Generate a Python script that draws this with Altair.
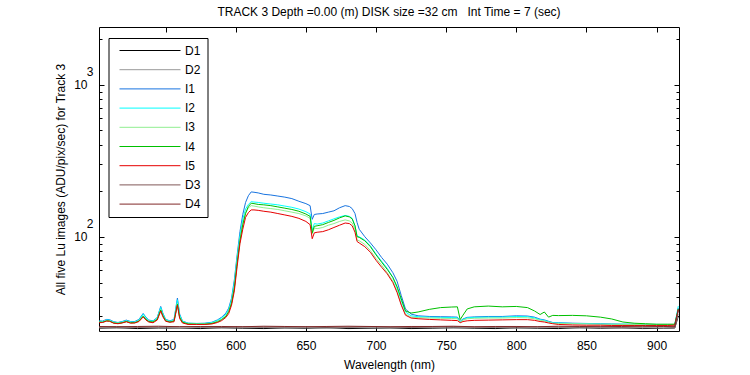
import altair as alt
import pandas as pd

# ---------------- data ----------------
W = [502, 505, 508, 510, 513, 516, 519, 522, 525, 528,
     531, 534, 536, 538, 541, 544, 546.5, 548, 550, 553,
     556, 558.4, 560, 562, 566, 572, 578, 583, 587, 590,
     593, 595, 597, 599, 601, 603, 605, 607, 609, 611,
     613, 616, 620, 625, 630, 635, 640, 645, 650, 653,
     654.5, 656, 658, 662, 666, 670, 674, 678, 681, 683,
     685, 686.5, 688, 692, 696, 700, 704, 708, 712, 715,
     718, 721, 725, 730, 738, 746, 754, 758, 760, 762,
     765, 770, 780, 790, 800, 808, 813, 817, 820, 823,
     826, 830, 840, 850, 860, 868, 876, 884, 892, 900,
     908, 913, 915.5]

I1 = [28.0, 27.9, 28.6, 28.5, 27.6, 27.3, 27.7, 28.3, 27.7, 27.7,
      28.6, 31.3, 29.5, 28.3, 28.0, 29.4, 34.8, 31.5, 28.6, 28.0,
      28.6, 39.5, 31.0, 27.9, 27.0, 26.9, 27.0, 27.4, 28.4, 29.6,
      31.5, 34.0, 39.5, 52, 76, 108, 140, 168, 186, 197,
      196, 194, 190, 188, 185, 182, 178, 171, 165, 160,
      130, 140, 141, 142, 145, 148, 155, 160, 158, 153,
      142, 124, 112, 100, 91, 82, 73, 66, 58, 51,
      41, 33.5, 31.0, 30.2, 29.9, 29.8, 29.7, 29.6, 27.8, 28.8,
      29.5, 29.7, 29.9, 29.9, 30.2, 30.1, 29.6, 28.7, 28.4, 27.8,
      27.3, 27.2, 27.0, 26.9, 26.8, 26.7, 26.6, 26.6, 26.5, 26.5,
      26.5, 26.5, 34.0]

I2 = [27.8, 27.7, 28.4, 28.3, 27.5, 27.2, 27.6, 28.1, 27.6, 27.5,
      28.4, 31.0, 29.3, 28.1, 27.9, 29.2, 34.3, 31.2, 28.5, 27.9,
      28.4, 38.5, 30.6, 27.8, 27.0, 26.9, 26.9, 27.3, 28.2, 29.3,
      31.0, 33.4, 38.5, 50, 73, 102, 130, 152, 163, 170,
      169, 168, 166, 164, 162, 159, 156, 152, 146, 141,
      110, 122, 121, 123, 127, 131, 135, 138, 136, 132,
      118, 101, 100, 95, 87, 77, 69, 62, 54, 46,
      38, 32.0, 30.2, 29.8, 29.6, 29.5, 29.4, 29.3, 27.6, 28.6,
      29.3, 29.5, 29.6, 29.6, 29.9, 29.8, 29.3, 28.5, 28.2, 27.6,
      27.2, 27.1, 26.9, 26.8, 26.7, 26.6, 26.6, 26.5, 26.5, 26.5,
      26.4, 26.4, 35.0]

I3 = [27.4, 27.5, 28.1, 28.0, 27.2, 27.0, 27.3, 27.8, 27.3, 27.3,
      28.0, 30.2, 28.8, 27.8, 27.6, 28.8, 33.3, 30.5, 28.1, 27.6,
      28.0, 36.5, 29.8, 27.5, 26.8, 26.7, 26.7, 27.0, 27.8, 28.7,
      30.3, 32.5, 37.0, 47, 69, 96, 122, 144, 155, 160,
      159, 157, 155, 153, 151, 148, 145, 142, 137, 132,
      104, 114, 113, 115, 119, 122, 126, 129, 127, 123,
      112, 95, 94, 89, 81, 72, 65, 58, 51, 44,
      36, 31.0, 29.6, 29.4, 29.2, 29.1, 29.0, 28.9, 27.4, 28.3,
      28.9, 29.1, 29.2, 29.2, 29.4, 29.3, 28.9, 28.2, 27.9, 27.4,
      27.0, 26.9, 26.8, 26.7, 26.6, 26.6, 26.5, 26.5, 26.4, 26.4,
      26.4, 26.4, 33.5]

I4 = [27.5, 27.4, 28.0, 27.9, 27.1, 26.9, 27.2, 27.7, 27.2, 27.2,
      27.9, 30.0, 28.6, 27.7, 27.5, 28.6, 33.0, 30.3, 28.0, 27.5,
      27.9, 36.0, 29.5, 27.4, 26.7, 26.6, 26.6, 26.9, 27.6, 28.5,
      30.0, 32.2, 36.5, 46, 67, 94, 120, 142, 158, 166,
      165, 163, 162, 160, 157, 154, 151, 147, 141, 136,
      106, 117, 118, 120, 124, 128, 133, 137, 135, 131,
      118, 100, 99, 94, 86, 76, 68, 61, 54, 47,
      39, 32.5, 31.5, 32.0, 33.3, 34.2, 34.5, 34.6, 28.5, 30.5,
      33.5, 34.6, 35.0, 34.6, 34.8, 34.2, 32.5, 30.8, 32.0, 29.6,
      30.4, 30.3, 30.4, 30.2, 29.6, 28.8, 27.5, 27.0, 26.8, 26.6,
      26.6, 26.6, 33.5]

I5 = [27.2, 27.3, 27.9, 27.8, 27.0, 26.8, 27.1, 27.6, 27.0, 27.1,
      27.7, 29.7, 28.3, 27.5, 27.2, 28.3, 32.5, 29.8, 27.8, 27.4,
      27.6, 35.5, 29.0, 27.1, 26.5, 26.5, 26.5, 26.7, 27.3, 28.1,
      29.5, 31.3, 35.5, 44, 64, 90, 112, 134, 144, 150,
      150, 149, 147, 145, 142, 139, 136, 132, 126, 120,
      97, 106, 107, 108, 111, 115, 119, 123, 122, 118,
      107, 93, 91, 86, 79, 70, 63, 57, 50, 43,
      35.5, 30.5, 29.2, 28.9, 28.6, 28.4, 28.2, 28.1, 27.2, 27.7,
      28.0, 28.2, 28.3, 28.4, 28.5, 28.5, 28.2, 27.7, 27.5, 27.1,
      26.8, 26.5, 26.3, 26.2, 26.2, 26.1, 26.1, 26.1, 26.1, 26.1,
      26.1, 26.2, 33.0]

WD = [502, 515, 530, 545, 560, 575, 590, 605, 620, 635,
      650, 665, 680, 695, 710, 725, 740, 755, 770, 785,
      800, 815, 830, 845, 860, 875, 890, 905, 913, 915.5]

D1 = [25.0, 25.2, 24.9, 25.1, 25.0, 24.9, 25.2, 25.0, 24.9, 25.1,
      25.0, 25.2, 24.9, 25.0, 25.1, 24.9, 25.0, 25.2, 25.0, 24.9,
      25.1, 25.0, 24.9, 25.2, 25.0, 25.1, 24.9, 25.0, 25.1, 30.0]
D2 = [25.2, 25.1, 25.3, 25.2, 25.0, 25.3, 25.1, 25.2, 25.3, 25.1,
      25.2, 25.0, 25.3, 25.2, 25.1, 25.3, 25.2, 25.1, 25.2, 25.3,
      25.0, 25.2, 25.3, 25.1, 25.2, 25.0, 25.2, 25.1, 25.2, 31.0]
D3 = [25.5, 25.6, 25.4, 25.5, 25.6, 25.5, 25.4, 25.6, 25.5, 25.5,
      25.6, 25.4, 25.5, 25.6, 25.5, 25.4, 25.5, 25.6, 25.5, 25.5,
      25.4, 25.6, 25.5, 25.5, 25.6, 25.4, 25.5, 25.6, 25.5, 32.5]
D4 = [25.7, 25.6, 25.7, 25.8, 25.6, 25.7, 25.7, 25.6, 25.8, 25.7,
      25.6, 25.7, 25.8, 25.7, 25.6, 25.7, 25.7, 25.8, 25.6, 25.7,
      25.7, 25.6, 25.8, 25.7, 25.6, 25.7, 25.8, 25.7, 25.6, 33.5]

SERIES = ["D1", "D2", "I1", "I2", "I3", "I4", "I5", "D3", "D4"]
COLORS = ["#000000", "#999999", "#1874e0", "#00ffff", "#90ee90",
          "#00c000", "#e60000", "#805858", "#802828"]

X_TICKS = [550, 600, 650, 700, 750, 800, 850, 900]
Y_MAJOR = [100, 1000]
Y_MINOR = [30, 40, 50, 60, 70, 80, 90, 100, 200, 300, 400, 500, 600, 700,
           800, 900, 1000, 2000]

NB = "\u00a0"
TITLE = ("TRACK 3 Depth =0.00 (m) DISK size =32 cm" + NB * 3 +
         "Int Time = 7 (sec)")
YTITLE = "All five Lu images (ADU/pix/sec) for Track 3"
XTITLE = "Wavelength (nm)"

# ---------------- build table ----------------
source = {"D1": (WD, D1), "D2": (WD, D2), "I1": (W, I1), "I2": (W, I2),
          "I3": (W, I3), "I4": (W, I4), "I5": (W, I5), "D3": (WD, D3),
          "D4": (WD, D4)}
rows = []
for s in SERIES:
    xs, ys = source[s]
    assert len(xs) == len(ys), s
    for x, y in zip(xs, ys):
        rows.append({"wl": x, "val": y, "series": s})
df = pd.DataFrame(rows)

FONT = "Liberation Sans"
xscale = alt.Scale(domain=[502.5, 916], nice=False, zero=False)
yscale = alt.Scale(type="log", domain=[24, 2390], nice=False)
cscale = alt.Scale(domain=SERIES, range=COLORS)

legend = alt.Legend(
    orient="none", legendX=9.5, legendY=11, title=None,
    symbolType="stroke", symbolSize=3721, symbolStrokeWidth=1,
    clipHeight=12, rowPadding=7.2, padding=6.5, symbolOffset=4,
    labelOffset=4, labelFontSize=12, labelFont=FONT, labelColor="black",
    labelExpr="datum.label + '" + NB * 4 + "'",
    strokeColor="black", fillColor="white",
)

common_axis = dict(domain=False, grid=False, tickColor="black",
                   labelColor="black", labelFont=FONT, labelFontSize=12,
                   tickWidth=1)

x_bottom = alt.Axis(orient="bottom", values=X_TICKS, offset=-5, tickSize=5,
                    labelPadding=9, format="d", title=XTITLE,
                    titleFont=FONT, titleFontSize=12, titleFontWeight="normal",
                    titleColor="black", titlePadding=8, **common_axis)
x_top = alt.Axis(orient="top", values=X_TICKS, offset=-5, tickSize=5,
                 labels=False, title=None, **common_axis)

y_left = alt.Axis(orient="left", values=Y_MAJOR, offset=-5, tickSize=5,
                  labelExpr="'10'", labelPadding=12, title=YTITLE,
                  titleFont=FONT, titleFontSize=12, titleFontWeight="normal",
                  titleColor="black", titlePadding=6, **common_axis)
y_left_minor = alt.Axis(orient="left", values=Y_MINOR, offset=-3, tickSize=3,
                        labelExpr="datum.value == 100 ? '2' : (datum.value == 1000 ? '3' : '')",
                        labelPadding=6, labelOffset=-13, title=None,
                        **common_axis)
y_right = alt.Axis(orient="right", values=Y_MAJOR, offset=-5, tickSize=5,
                   labels=False, title=None, **common_axis)
y_right_minor = alt.Axis(orient="right", values=Y_MINOR, offset=-3, tickSize=3,
                         labels=False, title=None, **common_axis)

axes = [(x_bottom, y_left), (x_top, y_left_minor), (None, y_right),
        (None, y_right_minor)]

layers = []
for i, s in enumerate(SERIES):
    xa, ya = axes[i] if i < len(axes) else (None, None)
    layers.append(
        alt.Chart(df)
        .transform_filter(alt.datum.series == s)
        .mark_line(strokeWidth=1, clip=True)
        .encode(
            x=alt.X("wl:Q", scale=xscale, axis=xa),
            y=alt.Y("val:Q", scale=yscale, axis=ya),
            color=alt.Color("series:N", scale=cscale, legend=legend),
        )
    )

chart = (
    alt.layer(*layers)
    .resolve_axis(x="independent", y="independent")
    .properties(
        width=580, height=304,
        autosize=alt.AutoSizeParams(type="none"),
        padding={"left": 99, "top": 27, "right": 71, "bottom": 44},
        title=alt.TitleParams(TITLE, font=FONT, fontSize=12,
                              fontWeight="normal", color="black",
                              anchor="middle", frame="group", offset=8),
        background="white",
    )
    .configure_view(stroke="black", strokeWidth=1)
)

chart.save("out.html", embed_options={"renderer": "svg", "actions": False})
